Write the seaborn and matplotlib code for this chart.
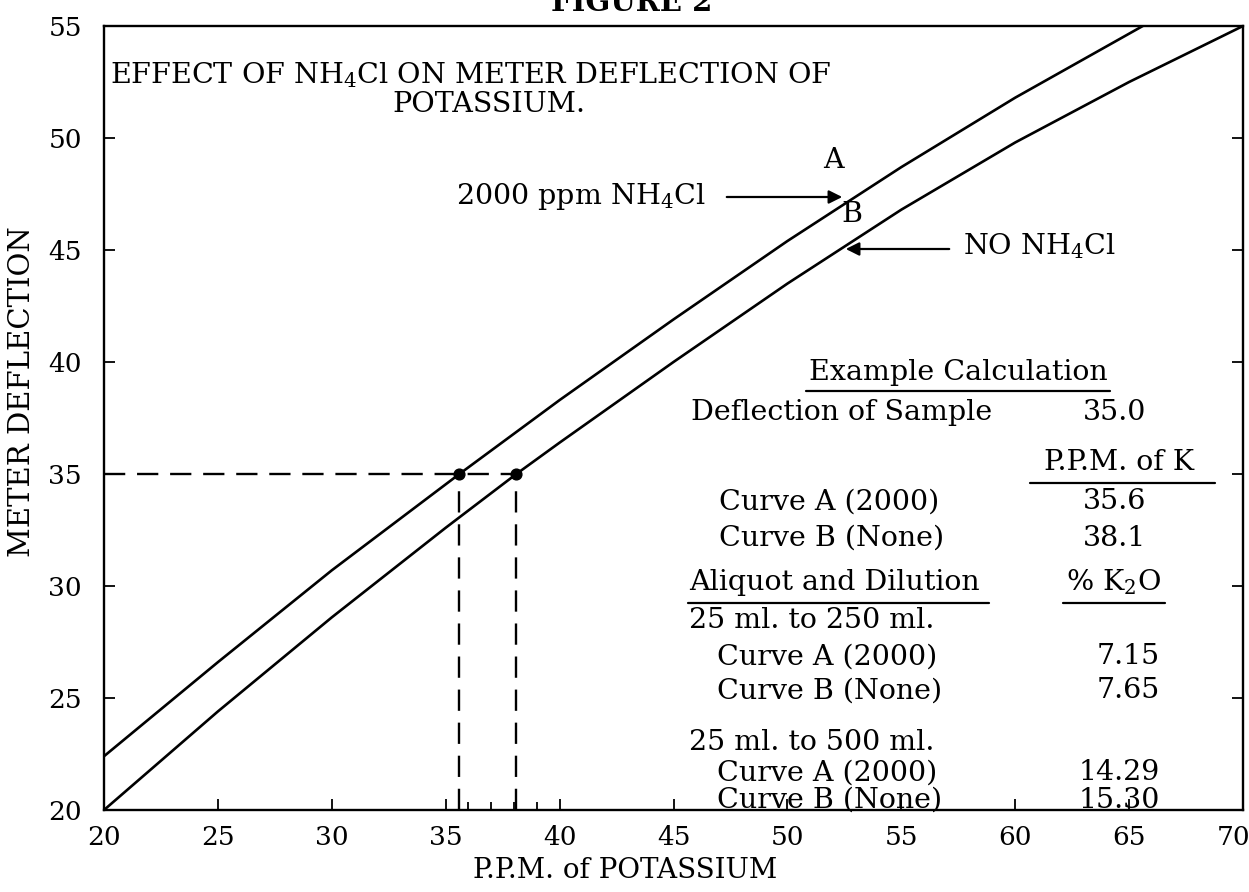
import matplotlib
matplotlib.use("Agg")
import matplotlib.pyplot as plt
import matplotlib.transforms as mtransforms
import seaborn as sns
import pandas as pd
from matplotlib.lines import Line2D

# ---- data ----
curve_a_x = [20, 25, 30, 35.6, 40, 45, 50, 55, 60, 65.6]
curve_a_y = [22.4, 26.6, 30.7, 35.0, 38.3, 41.9, 45.4, 48.7, 51.8, 55.0]
curve_b_x = [20, 25, 30, 35, 38.1, 40, 45, 50, 55, 60, 65, 70]
curve_b_y = [20.0, 24.4, 28.6, 32.6, 35.0, 36.4, 40.0, 43.5, 46.8, 49.8, 52.5, 55.0]
sample_deflection = 35.0
ppm_a = 35.6
ppm_b = 38.1
x_ticks = [20, 25, 30, 35, 40, 45, 50, 55, 60, 65, 70]
x_minor = [36, 37, 38, 39]
y_ticks = [20, 25, 30, 35, 40, 45, 50, 55]

sns.set_theme(style="ticks")
plt.rcParams['font.family'] = ['DejaVu Serif']
plt.rcParams['mathtext.fontset'] = 'custom'
plt.rcParams['mathtext.rm'] = 'DejaVu Serif'
for k in ['text.color', 'axes.labelcolor', 'xtick.color', 'ytick.color', 'axes.edgecolor']:
    plt.rcParams[k] = 'black'

fig = plt.figure(figsize=(12.49, 8.92), dpi=100)
L, R, B, T = 104, 1243, 810, 26
W, H = 1249, 892
ax = fig.add_axes([L / W, 1 - B / H, (R - L) / W, (B - T) / H])

df_a = pd.DataFrame({"x": curve_a_x, "y": curve_a_y})
df_b = pd.DataFrame({"x": curve_b_x, "y": curve_b_y})
sns.lineplot(data=df_a, x="x", y="y", ax=ax, color="black", lw=1.9, sort=False, estimator=None)
sns.lineplot(data=df_b, x="x", y="y", ax=ax, color="black", lw=1.9, sort=False, estimator=None)

dash = (0, (9, 5))
ax.plot([20, ppm_b], [sample_deflection] * 2, color="black", lw=1.7, linestyle=dash)
ax.plot([ppm_a] * 2, [20, sample_deflection], color="black", lw=1.7, linestyle=dash)
ax.plot([ppm_b] * 2, [20, sample_deflection], color="black", lw=1.7, linestyle=dash)
ax.scatter([ppm_a, ppm_b], [sample_deflection] * 2, color="black", s=60, zorder=5)

ax.set_xlim(20, 70)
ax.set_ylim(20, 55)
ax.set_xticks(x_ticks)
ax.set_xticks(x_minor, minor=True)
ax.set_yticks(y_ticks)
ax.tick_params(axis="both", which="both", direction="in", right=True, top=False,
               labelsize=19, length=8, width=1.3, colors="black")
ax.tick_params(axis="x", which="major", pad=11)
ax.tick_params(axis="y", which="major", pad=16)
ax.tick_params(axis="x", which="minor", length=6)
for s in ax.spines.values():
    s.set_linewidth(1.7)
    s.set_color("black")
ax.set_xlabel("")
ax.set_ylabel("")

# keep the last x tick label inside the canvas, as in the reference
last = ax.get_xticklabels()[-1]
last.set_transform(last.get_transform() + mtransforms.ScaledTranslation(-9 / 100, 0, fig.dpi_scale_trans))

def fx(px):
    return (px - L) / (R - L)

def fy(py):
    return (B - py) / (B - T)

fs = 20.5
tr = ax.transAxes
fig.text(0.506, 0.997, "FIGURE 2", ha="center", va="center", fontsize=21, fontweight="bold")
fig.text(22 / W, 1 - 392 / H, "METER DEFLECTION", rotation=90, ha="center", va="center", fontsize=21)
fig.text(625 / W, 1 - 870 / H, "P.P.M. of POTASSIUM", ha="center", va="center", fontsize=20)

ax.text(fx(110), fy(75), r"EFFECT OF NH$_4$Cl ON METER DEFLECTION OF", transform=tr,
        ha="left", va="center", fontsize=fs)
ax.text(fx(489), fy(105), "POTASSIUM.", transform=tr, ha="center", va="center", fontsize=fs)

# curve annotations
ax.text(fx(456), fy(197), r"2000 ppm NH$_4$Cl", transform=tr, ha="left", va="center", fontsize=fs)
ax.annotate("", xy=(fx(845), fy(197)), xytext=(fx(724), fy(197)), xycoords=tr, textcoords=tr,
            arrowprops=dict(arrowstyle="-|>", color="black", lw=1.6, mutation_scale=20))
ax.text(fx(833), fy(160), "A", transform=tr, ha="center", va="center", fontsize=fs)
ax.text(fx(852), fy(215), "B", transform=tr, ha="center", va="center", fontsize=fs)
ax.text(fx(963), fy(246), r"NO NH$_4$Cl", transform=tr, ha="left", va="center", fontsize=fs)
ax.annotate("", xy=(fx(843), fy(249)), xytext=(fx(952), fy(249)), xycoords=tr, textcoords=tr,
            arrowprops=dict(arrowstyle="-|>", color="black", lw=1.6, mutation_scale=20))

# example calculation table
def uline(x0, x1, py):
    ax.add_line(Line2D([fx(x0), fx(x1)], [fy(py), fy(py)], transform=tr, color="black", lw=1.6))

ax.text(fx(958), fy(372), "Example Calculation", transform=tr, ha="center", va="center", fontsize=fs)
uline(806, 1110, 391)
ax.text(fx(691), fy(413), "Deflection of Sample", transform=tr, ha="left", va="center", fontsize=fs)
ax.text(fx(1146), fy(413), f"{sample_deflection:.1f}", transform=tr, ha="right", va="center", fontsize=fs)
ax.text(fx(1119), fy(463), "P.P.M. of K", transform=tr, ha="center", va="center", fontsize=fs)
uline(1030, 1215, 483)
ax.text(fx(719), fy(502), "Curve A (2000)", transform=tr, ha="left", va="center", fontsize=fs)
ax.text(fx(1146), fy(502), f"{ppm_a:.1f}", transform=tr, ha="right", va="center", fontsize=fs)
ax.text(fx(719), fy(538), "Curve B (None)", transform=tr, ha="left", va="center", fontsize=fs)
ax.text(fx(1146), fy(538), f"{ppm_b:.1f}", transform=tr, ha="right", va="center", fontsize=fs)
ax.text(fx(689), fy(582), "Aliquot and Dilution", transform=tr, ha="left", va="center", fontsize=fs)
uline(688, 989, 603)
ax.text(fx(1114), fy(582), r"% K$_2$O", transform=tr, ha="center", va="center", fontsize=fs)
uline(1063, 1165, 603)

rows = [
    ("25 ml. to 250 ml.", None, 689, 621),
    ("Curve A (2000)", "7.15", 717, 657),
    ("Curve B (None)", "7.65", 717, 691),
    ("25 ml. to 500 ml.", None, 689, 743),
    ("Curve A (2000)", "14.29", 717, 773),
    ("Curve B (None)", "15.30", 717, 800),
]
for label, val, px, py in rows:
    ax.text(fx(px), fy(py), label, transform=tr, ha="left", va="center", fontsize=fs)
    if val is not None:
        ax.text(fx(1160), fy(py), val, transform=tr, ha="right", va="center", fontsize=fs)

fig.savefig("out.png", dpi=100)
